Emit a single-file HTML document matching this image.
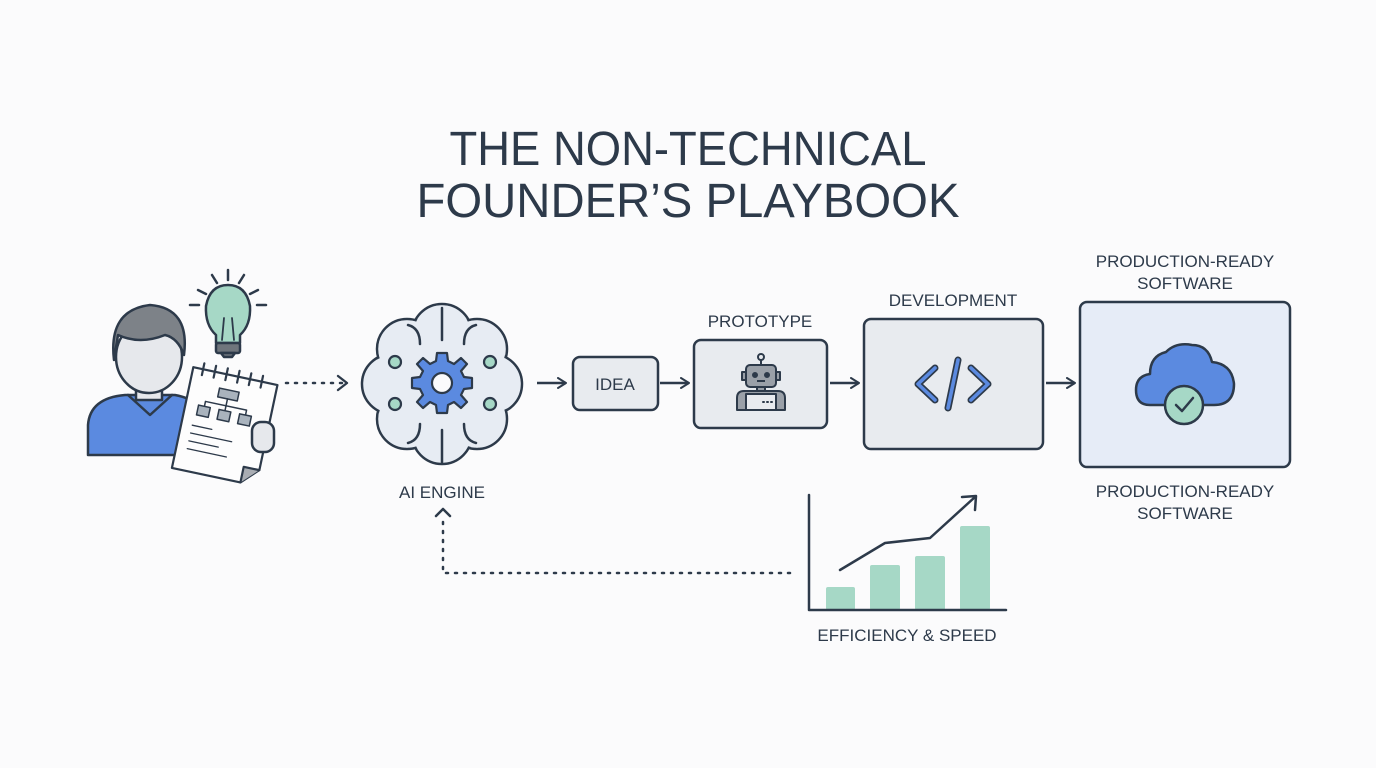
<!DOCTYPE html>
<html><head><meta charset="utf-8"><style>
html,body{margin:0;padding:0;background:#fbfbfc;}
svg{display:block;font-family:"Liberation Sans",sans-serif;}
</style></head><body>
<svg width="1376" height="768" viewBox="0 0 1376 768" xmlns="http://www.w3.org/2000/svg">
<defs>
<marker id="ah" viewBox="0 0 12 12" refX="10" refY="6" markerWidth="12" markerHeight="12" markerUnits="userSpaceOnUse" orient="auto">
<path d="M2,1 L10,6 L2,11" fill="none" stroke="#2d3a4a" stroke-width="2" stroke-linecap="round" stroke-linejoin="round"/>
</marker>
</defs>
<rect width="1376" height="768" fill="#fbfbfc"/>
<g fill="#2d3a4a" text-anchor="middle">
<text x="688" y="165" font-size="48" textLength="477" lengthAdjust="spacingAndGlyphs">THE NON-TECHNICAL</text>
<text x="688" y="217" font-size="48" textLength="543" lengthAdjust="spacingAndGlyphs">FOUNDER’S PLAYBOOK</text>
</g>

<!-- person -->
<g stroke="#2d3a4a" stroke-width="2.5" stroke-linejoin="round" stroke-linecap="round">
<path d="M88,455 L88,425 Q90,398 125,395 L175,395 Q205,400 210,430 L210,455 Z" fill="#5b8ae0"/>
<path d="M128,395 L150,415 L172,395" fill="none"/>
<rect x="136" y="372" width="26" height="28" fill="#e6e8ec"/>
<ellipse cx="149" cy="357" rx="33" ry="36" fill="#e6e8ec"/>
<path d="M114,360 Q108,310 150,305 Q190,308 184,355 Q178,338 165,335 Q140,345 118,335 Z" fill="#7d8288"/>
</g>
<!-- bulb -->
<g stroke="#2d3a4a" stroke-width="2.5" stroke-linecap="round" stroke-linejoin="round">
<path d="M228,270 v10 M212,275 l5,8 M244,275 l-5,8 M198,290 l8,4 M258,290 l-8,4 M190,305 h9 M257,305 h9"/>
<path d="M216,335 Q205,325 206,306 Q210,285 228,285 Q246,285 250,306 Q251,325 240,335 L240,343 L216,343 Z" fill="#a6d8c6"/>
<path d="M222,340 L224,318 M234,340 L232,318" fill="none" stroke-width="1.8"/>
<rect x="216" y="343" width="24" height="10" rx="2" fill="#6f757c"/>
<path d="M221,353 h14 l-3,4 h-8 Z" fill="#6f757c"/>
</g>
<!-- notepad -->
<g transform="rotate(12 225 425)" stroke="#2d3a4a" stroke-width="2.2" stroke-linejoin="round" stroke-linecap="round">
<path d="M182,375 L268,375 L268,462 L252,478 L182,478 Z" fill="#fdfdfd"/>
<path d="M252,478 L252,462 L268,462" fill="#a9adb3"/>
<path d="M192,369 v12 M204,369 v12 M216,369 v12 M228,369 v12 M240,369 v12 M252,369 v12"/>
<rect x="212" y="390" width="20" height="9" fill="#a9b3bd" stroke-width="1.5"/>
<path d="M222,399 v7 M201,406 h42 M201,406 v5 M222,406 v5 M243,406 v5" fill="none" stroke-width="1.5"/>
<rect x="195" y="411" width="12" height="10" fill="#a9b3bd" stroke-width="1.5"/>
<rect x="216" y="411" width="12" height="10" fill="#a9b3bd" stroke-width="1.5"/>
<rect x="237" y="411" width="12" height="10" fill="#a9b3bd" stroke-width="1.5"/>
<path d="M193,432 h20 M193,440 h42 M193,448 h30 M193,456 h40" stroke-width="1.3"/>
</g>
<rect x="252" y="422" width="22" height="30" rx="9" fill="#e6e8ec" stroke="#2d3a4a" stroke-width="2.5"/>

<!-- dotted arrow to brain -->
<line x1="286" y1="383" x2="344" y2="383" stroke="#2d3a4a" stroke-width="2.5" stroke-dasharray="2 7" stroke-linecap="round"/>
<path d="M338,376 L347,383 L338,390" fill="none" stroke="#2d3a4a" stroke-width="2.3" stroke-linecap="round" stroke-linejoin="round"/>

<!-- brain -->
<g>
<g fill="#e7ecf3" stroke="#2d3a4a" stroke-width="2.5">
<circle cx="442" cy="334" r="30"/><circle cx="477" cy="349" r="30"/><circle cx="492" cy="384" r="30"/><circle cx="477" cy="419" r="30"/>
<circle cx="442" cy="434" r="30"/><circle cx="407" cy="419" r="30"/><circle cx="392" cy="384" r="30"/><circle cx="407" cy="349" r="30"/>
</g>
<g fill="#e7ecf3">
<circle cx="442" cy="334" r="28.6"/><circle cx="477" cy="349" r="28.6"/><circle cx="492" cy="384" r="28.6"/><circle cx="477" cy="419" r="28.6"/>
<circle cx="442" cy="434" r="28.6"/><circle cx="407" cy="419" r="28.6"/><circle cx="392" cy="384" r="28.6"/><circle cx="407" cy="349" r="28.6"/>
<circle cx="442" cy="384" r="50"/>
</g>
<g fill="none" stroke="#2d3a4a" stroke-width="2.5" stroke-linecap="round">
<path d="M442,308 V340 M442,430 V462"/>
<path d="M420,344 Q420,328 408,325 M464,344 Q464,328 476,325"/>
<path d="M420,424 Q420,440 408,443 M464,424 Q464,440 476,443"/>
</g>
<g fill="#a6d8c6" stroke="#2d3a4a" stroke-width="2.2">
<circle cx="395" cy="362" r="6"/><circle cx="490" cy="362" r="6"/><circle cx="395" cy="404" r="6"/><circle cx="490" cy="404" r="6"/>
</g>
<g transform="translate(442 383)" stroke="#2d3a4a" stroke-width="2.2" stroke-linejoin="round">
<path fill="#5b8ae0" d="M-5,-30 L5,-30 L6,-22 L12,-19 L19,-25 L25,-19 L19,-12 L22,-6 L30,-5 L30,5 L22,6 L19,12 L25,19 L19,25 L12,19 L6,22 L5,30 L-5,30 L-6,22 L-12,19 L-19,25 L-25,19 L-19,12 L-22,6 L-30,5 L-30,-5 L-22,-6 L-19,-12 L-25,-19 L-19,-25 L-12,-19 L-6,-22 Z"/>
<circle r="10" fill="#fbfbfc"/>
</g>
</g>
<text x="442" y="498" font-size="17" fill="#2d3a4a" text-anchor="middle">AI ENGINE</text>

<!-- arrows -->
<g stroke="#2d3a4a" stroke-width="2.5" marker-end="url(#ah)">
<line x1="537" y1="383" x2="566" y2="383"/>
<line x1="660" y1="383" x2="689" y2="383"/>
<line x1="830" y1="383" x2="859" y2="383"/>
<line x1="1046" y1="383" x2="1075" y2="383"/>
</g>

<!-- boxes -->
<g stroke="#2d3a4a" stroke-width="2.5">
<rect x="573" y="357" width="85" height="53" rx="7" fill="#e8ebef"/>
<rect x="694" y="340" width="133" height="88" rx="7" fill="#e8ebef"/>
<rect x="864" y="319" width="179" height="130" rx="7" fill="#e8ebef"/>
<rect x="1080" y="302" width="210" height="165" rx="7" fill="#e6ecf7"/>
</g>
<g fill="#2d3a4a" text-anchor="middle" font-size="17">
<text x="615" y="390">IDEA</text>
<text x="760" y="327">PROTOTYPE</text>
<text x="953" y="306">DEVELOPMENT</text>
<text x="1185" y="267">PRODUCTION-READY</text>
<text x="1185" y="289">SOFTWARE</text>
<text x="1185" y="497">PRODUCTION-READY</text>
<text x="1185" y="519">SOFTWARE</text>
<text x="907" y="641">EFFICIENCY &amp; SPEED</text>
</g>

<!-- robot -->
<g stroke="#2d3a4a" stroke-width="2" stroke-linejoin="round">
<line x1="761" y1="360" x2="761" y2="365"/>
<circle cx="761" cy="357" r="3" fill="#e8ebef"/>
<rect x="746" y="365" width="30" height="22" rx="4" fill="#9aa0a8"/>
<rect x="742" y="372" width="4" height="8" fill="#9aa0a8"/>
<rect x="776" y="372" width="4" height="8" fill="#9aa0a8"/>
<circle cx="755" cy="375" r="2" fill="#2d3a4a"/><circle cx="767" cy="375" r="2" fill="#2d3a4a"/>
<line x1="757" y1="381" x2="765" y2="381"/>
<rect x="757" y="387" width="8" height="4" fill="#9aa0a8"/>
<path d="M737,410 V398 Q737,391 744,391 H778 Q785,391 785,398 V410 Z" fill="#9aa0a8"/>
<rect x="746" y="394" width="30" height="16" fill="#e8ebef"/>
<path d="M763,402 h1 M767,402 h1 M771,402 h1" stroke-linecap="round"/>
</g>

<!-- code -->
<g fill="none" stroke="#2d3a4a" stroke-width="7" stroke-linecap="round" stroke-linejoin="round">
<path d="M935,368 L918,384 L935,400 M971,368 L988,384 L971,400 M958,360 L948,408"/>
</g>
<g fill="none" stroke="#5b8ae0" stroke-width="3.6" stroke-linecap="round" stroke-linejoin="round">
<path d="M935,368 L918,384 L935,400 M971,368 L988,384 L971,400 M958,360 L948,408"/>
</g>

<!-- cloud -->
<g stroke="#2d3a4a" stroke-width="2.5" stroke-linejoin="round">
<path d="M1150,405 Q1136,405 1136,390 Q1136,376 1150,374 Q1150,356 1166,352 Q1176,342 1192,345 Q1208,345 1212,362 Q1232,364 1234,384 Q1234,405 1214,405 Z" fill="#5b8ae0"/>
<circle cx="1184" cy="405" r="19" fill="#a6d8c6"/>
<path d="M1176,405 L1182,411 L1193,398" fill="none" stroke-linecap="round"/>
</g>

<!-- chart -->
<g fill="#a6d8c6">
<rect x="826" y="587" width="29" height="23" rx="2"/>
<rect x="870" y="565" width="30" height="45" rx="2"/>
<rect x="915" y="556" width="30" height="54" rx="2"/>
<rect x="960" y="526" width="30" height="84" rx="2"/>
</g>
<g fill="none" stroke="#2d3a4a" stroke-width="2.5" stroke-linecap="round" stroke-linejoin="round">
<path d="M809,495 V610 H1006"/>
<path d="M840,570 L885,543 L930,538 L975,497"/>
<path d="M962,497 L976,496 L975,510"/>
</g>

<!-- feedback dotted -->
<g fill="none" stroke="#2d3a4a" stroke-width="2.5" stroke-linecap="round">
<path d="M790,573 H443 V518" stroke-dasharray="2 7"/>
<path d="M436,516 L443,509 L450,516" stroke-linejoin="round"/>
</g>
</svg>
</body></html>
